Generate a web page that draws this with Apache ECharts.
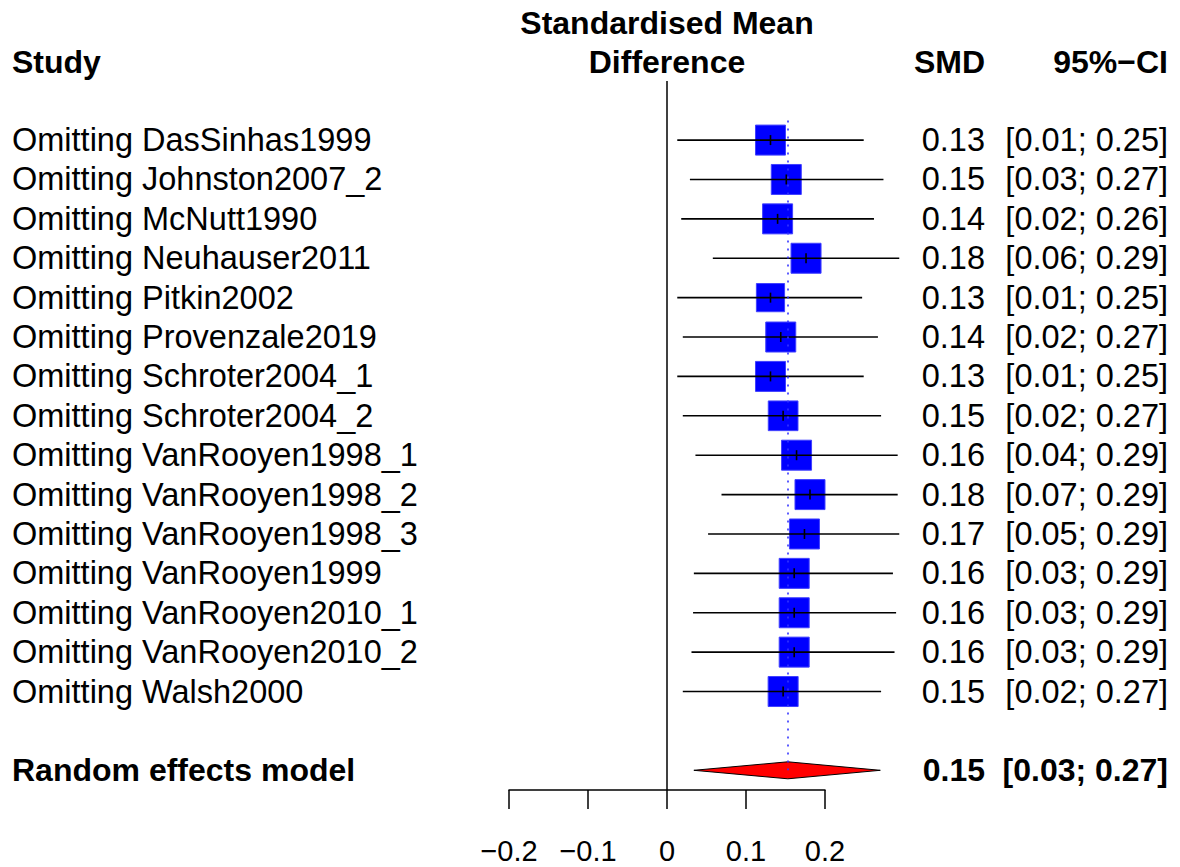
<!DOCTYPE html>
<html>
<head>
<meta charset="utf-8">
<script src="https://cdn.jsdelivr.net/npm/echarts@6/dist/echarts.min.js"></script>
<style>
  html, body { margin: 0; padding: 0; background: #fff; }
  #chart { width: 1180px; height: 867px; }
</style>
</head>
<body>
<div id="chart"></div>
<script>
var studies = [
  'Omitting DasSinhas1999', 'Omitting Johnston2007_2', 'Omitting McNutt1990',
  'Omitting Neuhauser2011', 'Omitting Pitkin2002', 'Omitting Provenzale2019',
  'Omitting Schroter2004_1', 'Omitting Schroter2004_2', 'Omitting VanRooyen1998_1',
  'Omitting VanRooyen1998_2', 'Omitting VanRooyen1998_3', 'Omitting VanRooyen1999',
  'Omitting VanRooyen2010_1', 'Omitting VanRooyen2010_2', 'Omitting Walsh2000'
];
var smd     = [0.131, 0.151, 0.140, 0.176, 0.131, 0.144, 0.131, 0.147, 0.164, 0.181, 0.174, 0.161, 0.161, 0.161, 0.147];
var ciLower = [0.013, 0.029, 0.018, 0.058, 0.013, 0.020, 0.013, 0.020, 0.036, 0.069, 0.052, 0.034, 0.033, 0.031, 0.020];
var ciUpper = [0.249, 0.274, 0.262, 0.294, 0.247, 0.267, 0.249, 0.271, 0.292, 0.292, 0.294, 0.286, 0.290, 0.288, 0.271];
var weights = [1, 1, 1, 1, 0.94, 1, 1, 0.99, 1, 1, 1, 1, 1, 1, 1];

var pooledLabel = 'Random effects model';
var pooledSmd = 0.153;
var pooledLower = 0.034;
var pooledUpper = 0.270;

var xTicks = [-0.2, -0.1, 0, 0.1, 0.2];

var FONT = '"Liberation Sans", Arial, sans-serif';
var pooledRow = studies.length + 1;

var studyData = studies.map(function (s, i) {
  return [smd[i], i, ciLower[i], ciUpper[i], weights[i]];
});

var tableData = studies.map(function (s, i) {
  return [i, s, smd[i].toFixed(2), '[' + ciLower[i].toFixed(2) + '; ' + ciUpper[i].toFixed(2) + ']', 0];
});
tableData.push([pooledRow, pooledLabel, pooledSmd.toFixed(2),
  '[' + pooledLower.toFixed(2) + '; ' + pooledUpper.toFixed(2) + ']', 1]);

function txt(x, y, s, align, bold) {
  return {
    type: 'text', x: x, y: y,
    style: {
      text: s, fill: '#000', font: (bold ? 'bold 32px ' : '32.5px ') + FONT,
      textAlign: align, textVerticalAlign: 'middle'
    }
  };
}

var chart = echarts.init(document.getElementById('chart'), null, { renderer: 'svg' });
chart.setOption({
  animation: false,
  backgroundColor: '#fff',
  grid: { left: 509, width: 316, top: 81, height: 709 },
  xAxis: {
    type: 'value', min: -0.2, max: 0.2, interval: 0.1,
    axisLine: { show: true, onZero: false, lineStyle: { color: '#000', width: 1.5 } },
    axisTick: { show: true, length: 19, lineStyle: { color: '#000', width: 1.5 } },
    splitLine: { show: false },
    axisLabel: {
      margin: 46, fontSize: 29, color: '#000', fontFamily: FONT,
      formatter: function (v) { return v === 0 ? '0' : String(v).replace('-', '\u2212'); }
    }
  },
  yAxis: { type: 'value', min: -1.5, max: 16.5, inverse: true, show: false },
  graphic: [
    txt(667, 23, 'Standardised Mean', 'center', true),
    txt(667, 62, 'Difference', 'center', true),
    txt(12, 62, 'Study', 'left', true),
    txt(985, 62, 'SMD', 'right', true),
    txt(1168, 62, '95%\u2212CI', 'right', true)
  ],
  series: [
    {
      type: 'line', data: [], silent: true, z: 1,
      markLine: {
        silent: true, symbol: 'none', label: { show: false },
        lineStyle: { color: '#000', width: 1.5, type: 'solid' },
        data: [{ xAxis: 0 }]
      }
    },
    {
      type: 'line', data: [], silent: true, z: 1,
      markLine: {
        silent: true, symbol: 'none', label: { show: false },
        lineStyle: { color: '#3333ff', width: 1.6, type: [2, 6] },
        data: [[{ coord: [pooledSmd, -0.5] }, { coord: [pooledSmd, pooledRow] }]]
      }
    },
    {
      type: 'custom', clip: false, z: 3,
      data: studyData,
      encode: { x: 0, y: 1 },
      renderItem: function (params, api) {
        var row = api.value(1);
        var c = api.coord([api.value(0), row]);
        var lo = api.coord([api.value(2), row]);
        var hi = api.coord([api.value(3), row]);
        var side = 30 * api.value(4);
        return {
          type: 'group',
          children: [
            { type: 'rect', shape: { x: c[0] - side / 2, y: c[1] - side / 2, width: side, height: side },
              style: { fill: '#0000ff', stroke: '#4040ff', lineWidth: 1 } },
            { type: 'line', shape: { x1: lo[0], y1: c[1], x2: hi[0], y2: c[1] },
              style: { stroke: '#000', lineWidth: 1.6 } },
            { type: 'line', shape: { x1: c[0], y1: c[1] - 5, x2: c[0], y2: c[1] + 5 },
              style: { stroke: '#000', lineWidth: 1.6 } }
          ]
        };
      }
    },
    {
      type: 'custom', clip: false, z: 3,
      data: [[pooledSmd, pooledRow, pooledLower, pooledUpper]],
      encode: { x: 0, y: 1 },
      renderItem: function (params, api) {
        var row = api.value(1);
        var c = api.coord([api.value(0), row]);
        var lo = api.coord([api.value(2), row]);
        var hi = api.coord([api.value(3), row]);
        var h = 8.5;
        return {
          type: 'polygon',
          shape: { points: [[lo[0], c[1]], [c[0], c[1] - h], [hi[0], c[1]], [c[0], c[1] + h]] },
          style: { fill: '#ff0000', stroke: '#000', lineWidth: 1 }
        };
      }
    },
    {
      type: 'custom', clip: false, z: 4,
      data: tableData,
      encode: { y: 0 },
      renderItem: function (params, api) {
        var d = tableData[params.dataIndex];
        var y = api.coord([0, d[0]])[1];
        var bold = d[4] === 1;
        return {
          type: 'group',
          children: [
            txt(12, y, d[1], 'left', bold),
            txt(985, y, d[2], 'right', bold),
            txt(1168, y, d[3], 'right', bold)
          ]
        };
      }
    }
  ]
});
</script>
</body>
</html>
